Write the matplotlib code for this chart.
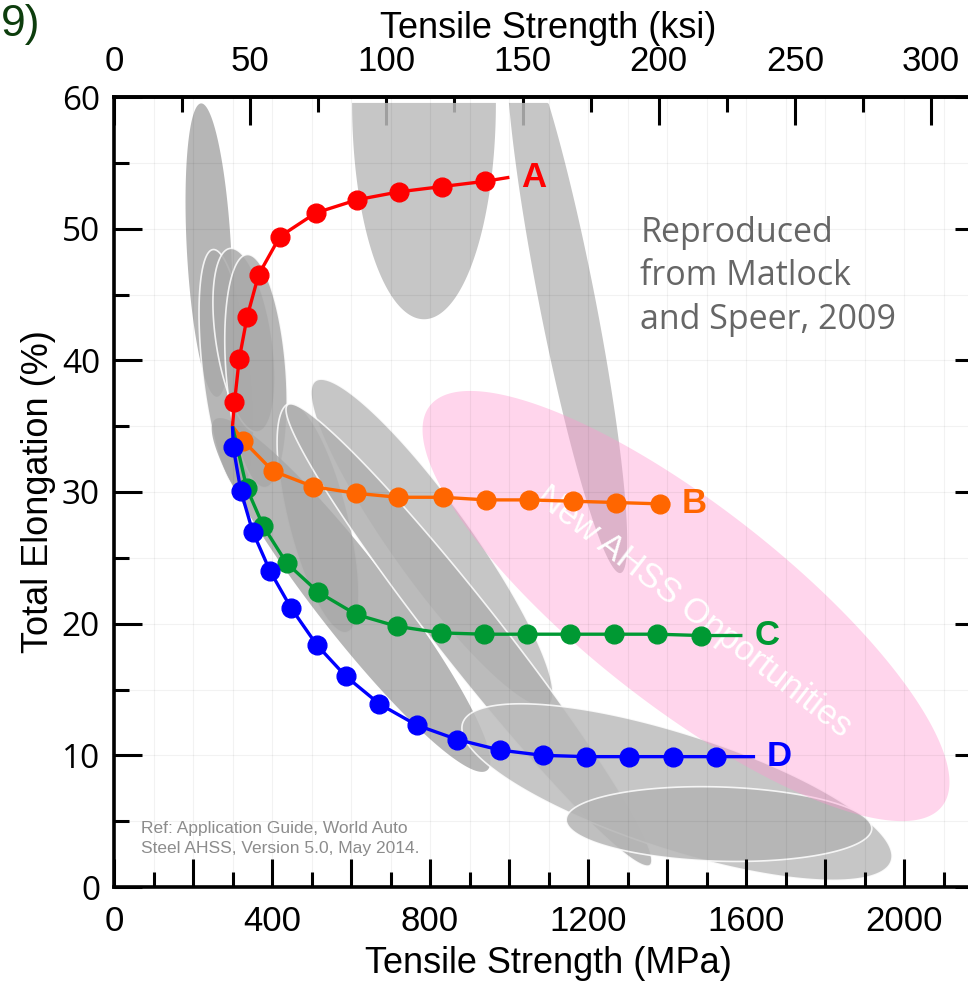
import numpy as np
import matplotlib
matplotlib.use("Agg")
import matplotlib.pyplot as plt
from matplotlib.patches import Polygon
from matplotlib.ticker import FixedLocator, MultipleLocator, FuncFormatter

plt.rcParams['font.family'] = ['Liberation Sans', 'DejaVu Sans']

# ---------------- data ----------------
# common starting point of the four curves (MPa, %)
start_mpa, start_el = 300, 35.0

A_mpa = [305, 317, 337, 366, 420, 511, 616, 722, 831, 940]
A_el = [36.8, 40.1, 43.3, 46.5, 49.4, 51.2, 52.2, 52.8, 53.2, 53.6]
A_end = (1001, 53.9)

B_mpa = [327, 402, 505, 613, 719, 832, 942, 1051, 1161, 1272, 1382]
B_el = [33.9, 31.6, 30.4, 29.9, 29.6, 29.6, 29.4, 29.4, 29.3, 29.2, 29.1]
B_end = (1408, 29.1)

C_mpa = [336, 378, 437, 517, 613, 716, 827, 937, 1045, 1155, 1265, 1375, 1485]
C_el = [30.3, 27.4, 24.6, 22.4, 20.7, 19.8, 19.3, 19.2, 19.2, 19.2, 19.2, 19.2, 19.1]
C_end = (1591, 19.1)

D_mpa = [302, 321, 351, 395, 448, 513, 587, 672, 766, 869, 977, 1085, 1195, 1305, 1415, 1525]
D_el = [33.4, 30.1, 27.0, 24.0, 21.2, 18.4, 16.0, 13.9, 12.3, 11.2, 10.4, 10.0, 9.9, 9.9, 9.9, 9.9]
D_end = (1623, 9.9)

curve_names = ['A', 'B', 'C', 'D']
curve_colors = ['#ff0000', '#ff6600', '#009933', '#0000ff']

# gray property regions: centre (MPa, %), half axes (MPa-equivalent screen length), angle (deg)
reg_cx = [240.5, 284.8, 329.1, 359.5, 516.5, 600.0, 805.0, 898.7, 1146.8, 784.8, 1425.3, 1531.6]
reg_cy = [48.37, 39.29, 41.53, 39.18, 28.02, 22.18, 26.12, 19.14, 44.57, 59.53, 7.21, 4.78]
reg_a = [372, 306, 235, 296, 299, 562, 506, 742, 704, 547, 570, 387]
reg_b = [56, 61, 71, 76, 76, 96, 101, 81, 71, 182, 147, 94]
reg_ang = [-86.9, -83.6, -81.3, -85.6, -75.9, -52.2, -54.3, -51.8, -78.9, 90, -17.8, -1.7]
reg_shade = ['#a9a9a9', '#aaaaaa', '#aaaaaa', '#aaaaaa', '#b0b0b0', '#a9a9a9',
             '#bcbcbc', '#b0b0b0', '#bcbcbc', '#bcbcbc', '#bcbcbc', '#b4b4b4']
reg_edge = [False, True, True, True, True, False, True, True, False, False, True, True]
region_top = 59.55

# "New AHSS Opportunities" region
pink_c = (1448.1, 21.34)
pink_a, pink_b, pink_ang = 823, 253, -38.0

xmax, ymax = 2200, 60
MPA_PER_KSI = 6.894757

# ---------------- figure ----------------
W, H, DPI = 968, 983, 100
fig = plt.figure(figsize=(W / DPI, H / DPI), dpi=DPI)
ax_l, ax_r, ax_t, ax_b = 114, 983, 97, 887
ax = fig.add_axes([ax_l / W, 1 - ax_b / H, (ax_r - ax_l) / W, (ax_b - ax_t) / H])
ax.set_xlim(0, xmax)
ax.set_ylim(0, ymax)

# aspect: MPa-equivalent length of 1 % elongation on screen
K = ((ax_b - ax_t) / ymax) / ((ax_r - ax_l) / xmax)


def ellipse_xy(cx, cy, a, b, ang, ytop=None, n=300):
    t = np.linspace(0, 2 * np.pi, n)
    u, v = a * np.cos(t), b * np.sin(t)
    th = np.radians(ang)
    x = cx + u * np.cos(th) - v * np.sin(th)
    y = cy + (u * np.sin(th) + v * np.cos(th)) / K
    if ytop is not None:
        y = np.minimum(y, ytop)
    return np.column_stack([x, y])


for cx, cy, a, b, ang, sh, ed in zip(reg_cx, reg_cy, reg_a, reg_b, reg_ang, reg_shade, reg_edge):
    pts = ellipse_xy(cx, cy, a, b, ang, ytop=region_top)
    ax.add_patch(Polygon(pts, closed=True, facecolor=sh, alpha=0.85,
                         edgecolor='white' if ed else 'none', lw=1.2, zorder=1))

ax.add_patch(Polygon(ellipse_xy(pink_c[0], pink_c[1], pink_a, pink_b, pink_ang), closed=True,
                     facecolor='#ff99d1', alpha=0.41, edgecolor='none', zorder=1.2))
ax.text(1468, 20.9, 'New AHSS Opportunities', color='white', fontsize=25,
        rotation=-37.7, rotation_mode='anchor', ha='center', va='center', zorder=1.3)

# grid
ax.set_axisbelow('line')

# curves
curves = [(A_mpa, A_el, A_end), (B_mpa, B_el, B_end), (C_mpa, C_el, C_end), (D_mpa, D_el, D_end)]
for (mx, my, end), name, col in zip(curves, curve_names, curve_colors):
    xs = [start_mpa] + list(mx) + [end[0]]
    ys = [start_el] + list(my) + [end[1]]
    ax.plot(xs, ys, color=col, lw=2.4, marker='o', ms=13.5, markevery=slice(1, len(xs) - 1),
            zorder=3, solid_capstyle='butt', solid_joinstyle='round')
    ax.text(end[0] + 30, end[1], name, color=col, fontsize=25, fontweight='bold',
            ha='left', va='center', zorder=4)

# annotations
repro_lines = ['Reproduced', 'from Matlock', 'and Speer, 2009']
repro_base = [49.0, 45.7, 42.4]
for s, yb in zip(repro_lines, repro_base):
    ax.text(1332, yb, s, color='#666666', fontsize=24.5, family=['Open Sans', 'DejaVu Sans'],
            ha='left', va='baseline', zorder=4)

ref_lines = ['Ref: Application Guide, World Auto', 'Steel AHSS, Version 5.0, May 2014.']
ref_base = [4.1, 2.58]
for s, yb in zip(ref_lines, ref_base):
    ax.text(68, yb, s, color='#8c8c8c', fontsize=12.5, ha='left', va='baseline', zorder=4)

# ---------------- axes styling ----------------
x_major = np.arange(0, xmax + 1, 200)
ax.xaxis.set_major_locator(FixedLocator(x_major))
ax.xaxis.set_minor_locator(MultipleLocator(100))
ax.xaxis.set_major_formatter(FuncFormatter(lambda v, p: f'{v:.0f}' if round(v) % 400 == 0 else ''))
ax.yaxis.set_major_locator(MultipleLocator(10))
ax.yaxis.set_minor_locator(MultipleLocator(5))
ax.grid(True, which='both', color='black', alpha=0.05, lw=0.8)

ax.tick_params(axis='both', which='major', direction='in', length=20, width=2.2,
               top=False, right=True, labelsize=25, colors='black')
ax.tick_params(axis='both', which='minor', direction='in', length=10.8, width=2.2,
               top=False, right=True)
ax.tick_params(axis='x', which='major', pad=13)
ax.tick_params(axis='y', which='major', pad=10)
for lab in ax.get_yticklabels():
    lab.set_family(['Open Sans', 'DejaVu Sans'])
    lab.set_fontsize(24)
for sp in ax.spines.values():
    sp.set_linewidth(2.6)

ax.set_xlabel('Tensile Strength (MPa)', fontsize=26, labelpad=6)
ax.set_ylabel('Total Elongation (%)', fontsize=26, labelpad=4)

secax = ax.secondary_xaxis('top', functions=(lambda m: m / MPA_PER_KSI, lambda k: k * MPA_PER_KSI))
secax.xaxis.set_major_locator(FixedLocator(np.arange(0, 301, 50)))
secax.xaxis.set_minor_locator(FixedLocator(np.arange(25, 301, 50)))
secax.tick_params(which='major', direction='in', length=20, width=2.2, labelsize=25, pad=14)
secax.tick_params(which='minor', direction='in', length=10.8, width=2.2)
secax.spines['top'].set_linewidth(2.6)
secax.set_xlabel('Tensile Strength (ksi)', fontsize=26, labelpad=5)

fig.text(1 / W, 1 - 36 / H, '9)', color='#0d3d0d', fontsize=32, ha='left', va='baseline')

fig.savefig('out.png', dpi=DPI)
